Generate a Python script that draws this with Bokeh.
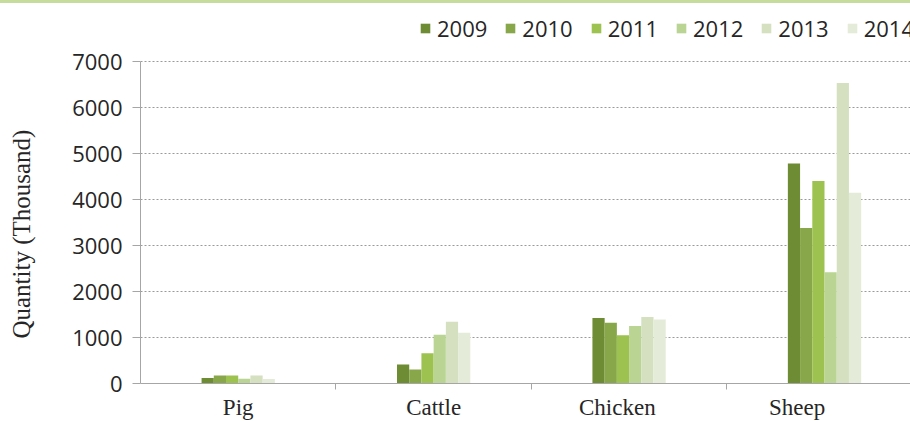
from bokeh.plotting import figure
from bokeh.layouts import column
from bokeh.models import (ColumnDataSource, FixedTicker, Legend, LegendItem,
                          Range1d, Div)
from bokeh.embed import file_html
from bokeh.resources import INLINE

# ---- data ----
categories = ["Pig", "Cattle", "Chicken", "Sheep"]
years = ["2009", "2010", "2011", "2012", "2013", "2014"]
v2009 = [120, 414, 1425, 4780]
v2010 = [175, 305, 1323, 3380]
v2011 = [175, 660, 1047, 4400]
v2012 = [105, 1060, 1250, 2420]
v2013 = [175, 1340, 1446, 6530]
v2014 = [100, 1105, 1390, 4145]
series = [v2009, v2010, v2011, v2012, v2013, v2014]
y_ticks = [0, 1000, 2000, 3000, 4000, 5000, 6000, 7000]
y_title = "Quantity (Thousand)"

colors = ["#6e8c33", "#87a74a", "#9dc250", "#bad493", "#d4e0c0", "#e4ecd9"]
text_color = "#262626"
axis_color = "#a6a6a6"

bar_w = 0.0625
centers = [i + 0.5 for i in range(len(categories))]
boundaries = [i for i in range(1, len(categories))]
# the reference places the last two category labels a little left of centre
label_nudge = [0.0, 0.0, -0.06, -0.14]
label_pos = [c + d for c, d in zip(centers, label_nudge)]

H = 419  # plot height below the 3px top rule
frame_h = 380
y_top = 7000 * frame_h / 322

p = figure(width=910, height=H, output_backend="svg", toolbar_location=None,
           x_range=Range1d(0, 3.94), y_range=Range1d(0, y_top),
           min_border_left=140, min_border_right=0, min_border_top=0,
           min_border_bottom=H - frame_h)
p.outline_line_color = None

legend_items = []
n = len(years)
nan = float("nan")
for j, yr in enumerate(years):
    off = (j - (n - 1) / 2) * bar_w
    src = ColumnDataSource(dict(x=[c + off for c in centers], top=series[j]))
    p.vbar(x="x", top="top", bottom=0, width=bar_w, source=src,
           fill_color=colors[j], line_color=None)
    # square swatch used only for the legend (no visible point)
    sw = p.scatter(x=[nan], y=[nan], marker="square", size=10,
                   fill_color=colors[j], line_color=None)
    legend_items.append(LegendItem(label=yr, renderers=[sw], index=0))

# y axis
yax = p.yaxis[0]
yax.ticker = FixedTicker(ticks=y_ticks)
yax.bounds = (0, 7000)
yax.axis_line_color = axis_color
yax.major_tick_line_color = axis_color
yax.major_tick_out = 8
yax.major_tick_in = 0
yax.minor_tick_line_color = None
yax.major_label_standoff = 10
yax.major_label_text_font = "Open Sans"
yax.major_label_text_font_size = "22px"
yax.major_label_text_color = text_color
# trailing no-break spaces centre the title on the 0..7000 part of the axis
yax.axis_label = y_title + "\u00a0" * 13
yax.axis_label_text_font = "Liberation Serif"
yax.axis_label_text_font_style = "normal"
yax.axis_label_text_font_size = "25px"
yax.axis_label_text_color = text_color
yax.axis_label_standoff = 34

# x axis
xax = p.xaxis[0]
xax.ticker = FixedTicker(ticks=label_pos, minor_ticks=boundaries)
xax.major_label_overrides = {c: name for c, name in zip(label_pos, categories)}
xax.axis_line_color = axis_color
xax.major_tick_line_color = None
xax.major_tick_out = 0
xax.major_tick_in = 0
xax.minor_tick_line_color = axis_color
xax.minor_tick_out = 6
xax.minor_tick_in = 0
xax.major_label_standoff = 5
xax.major_label_text_font = "Liberation Serif"
xax.major_label_text_font_size = "23px"
xax.major_label_text_color = text_color

p.xgrid.grid_line_color = None
p.ygrid.ticker = FixedTicker(ticks=y_ticks[1:])
p.ygrid.grid_line_color = "#9a9a9a"
p.ygrid.grid_line_dash = "2 2"
p.ygrid.grid_line_width = 1

legend = Legend(items=legend_items,
                orientation="horizontal", location=(273, 340),
                glyph_width=24, glyph_height=24, label_standoff=0, spacing=11,
                padding=0, margin=0, border_line_alpha=0, background_fill_alpha=0,
                label_text_font="Open Sans", label_text_font_size="22px",
                label_text_color=text_color)
p.add_layout(legend, "center")

top_rule = Div(text="", width=910, height=3, margin=0,
               styles={"background-color": "#c6dc9c"})

layout = column(top_rule, p, spacing=0)
open("out.html", "w").write(file_html(layout, INLINE))
